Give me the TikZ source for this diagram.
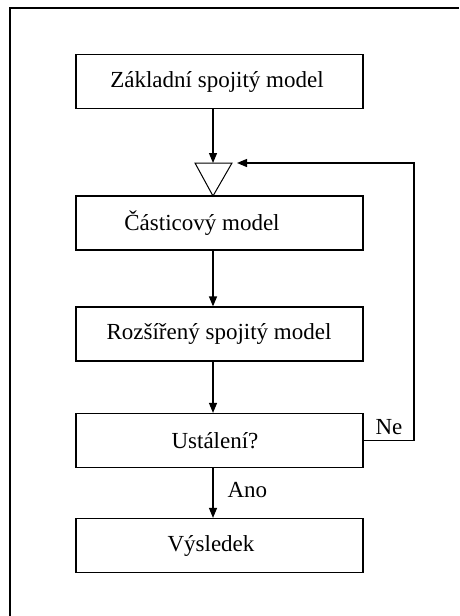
\documentclass[tikz,border=0pt]{standalone}
\usepackage{fontspec}
\setmainfont{Liberation Serif}
\usetikzlibrary{arrows.meta}
\begin{document}
\begin{tikzpicture}[x=1pt,y=-1pt,
  every node/.style={font=\fontsize{23}{26}\selectfont},
  flowbox/.style={draw, line width=1.2pt, minimum width=287pt, minimum height=54pt, inner sep=0pt},
  txt/.style={inner sep=0pt},
  flow/.style={line width=1.2pt, -{Triangle[length=10pt,width=8pt]}},
  plain/.style={line width=1.2pt}]
\useasboundingbox (0,0) rectangle (459,616);
\draw[line width=2.5pt] (10,616) -- (10,8) -- (459,8);
% boxes
\node[flowbox] (b1) at (219.5,81.5) {};
\node[txt] (t1) at (217,81.5) {Základní spojitý model};
\node[flowbox] (b2) at (219.5,223) {};
\node[txt] (t2) at (202,223) {Částicový model};
\node[flowbox] (b3) at (219.5,334) {};
\node[txt] (t3) at (219,334) {Rozšířený spojitý model};
\node[flowbox] (b4) at (219.5,440.5) {};
\node[txt] (t4) at (215,440.5) {Ustálení?};
\node[flowbox] (b5) at (219.5,545.5) {};
\node[txt] (t5) at (211,545.5) {Výsledek};
% merge triangle
\coordinate (mtop) at (213,163);
\coordinate (mtl) at (195,163);
\coordinate (mtr) at (232,163);
\coordinate (mbot) at (213,196);
\draw[line width=1pt] (mtl) -- (mtr) -- (mbot) -- cycle;
\coordinate (min) at (237,163);
% connectors
\draw[flow] (b1.south -| mtop) -- (mtop);
\draw[flow] (b2.south -| mtop) -- (b3.north -| mtop);
\draw[flow] (b3.south -| mtop) -- (b4.north -| mtop);
\draw[flow] (b4.south -| mtop) -- node[txt, right=14pt, pos=0.45] (ano) {Ano} (b5.north -| mtop);
\coordinate (fbc) at (414,440.5);
\coordinate (fbt) at (414,163);
\draw[flow] (b4.east) -- (fbc) -- (fbt) -- (min);
\node[txt] (ne) at (389,427) {Ne};
\end{tikzpicture}
\end{document}
